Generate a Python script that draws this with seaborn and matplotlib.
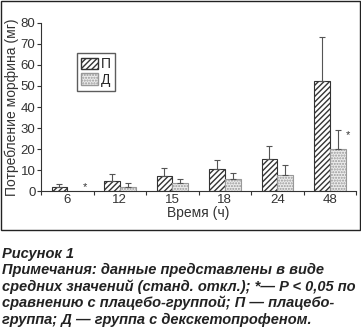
import numpy as np
import pandas as pd
import matplotlib
matplotlib.use("Agg")
import matplotlib.pyplot as plt
import seaborn as sns
from matplotlib.patches import Rectangle, Patch

hours = ["6", "12", "15", "18", "24", "48"]
placebo_mean = [2.0, 5.0, 7.3, 10.5, 15.5, 52.5]
placebo_sd = [1.5, 3.0, 3.7, 4.5, 6.0, 20.5]
dex_mean = [0.2, 2.0, 3.8, 5.7, 7.8, 20.0]
dex_sd = [0.0, 2.0, 2.2, 3.2, 4.7, 9.2]
groups = ["П", "Д"]
significant = [True, False, False, False, False, True]

sns.set_theme(style="ticks")
plt.rcParams["font.family"] = ["Liberation Sans", "DejaVu Sans"]

df = pd.DataFrame({
    "Время (ч)": hours * 2,
    "value": placebo_mean + dex_mean,
    "group": [groups[0]] * len(hours) + [groups[1]] * len(hours),
})

fig = plt.figure(figsize=(3.61, 3.31), dpi=100)
W, H = 361, 331
# outer frame around chart
fig.patches.append(Rectangle((1 / W, 1 - 230 / H), 358.5 / W, 229 / H,
                             transform=fig.transFigure, fill=False,
                             edgecolor="#222222", linewidth=1.0))
ax = fig.add_axes([41 / W, 1 - 191.3 / H, 315 / W, (191.3 - 22.7) / H])

sns.barplot(data=df, x="Время (ч)", y="value", hue="group", ax=ax,
            width=0.6, gap=0, legend=False, errorbar=None,
            palette={groups[0]: "white", groups[1]: "#ececec"})

n = len(hours)
bars_p = ax.patches[:n]
bars_d = ax.patches[n:2 * n]
for b in bars_p:
    b.set_hatch("//////")
    b.set_edgecolor("#333333")
    b.set_linewidth(0.8)
for b in bars_d:
    b.set_hatch("......")
    b.set_edgecolor("#999999")
    b.set_linewidth(0.8)

xp = [b.get_x() + b.get_width() / 2 for b in bars_p]
xd = [b.get_x() + b.get_width() / 2 for b in bars_d]
ax.errorbar(xp, placebo_mean, yerr=[np.zeros(n), placebo_sd], fmt="none",
            ecolor="#555555", elinewidth=0.8, capsize=2.5, capthick=0.8)
ed = [(x, m, s) for x, m, s in zip(xd, dex_mean, dex_sd) if s > 0]
ax.errorbar([e[0] for e in ed], [e[1] for e in ed],
            yerr=[np.zeros(len(ed)), [e[2] for e in ed]], fmt="none",
            ecolor="#555555", elinewidth=0.8, capsize=2.5, capthick=0.8)

for i, sig in enumerate(significant):
    if sig:
        b = bars_d[i]
        ytxt = dex_mean[i] + dex_sd[i] - 2.5 if dex_sd[i] > 0 else 2.2
        ax.text(b.get_x() + b.get_width() + 0.04, ytxt, "*", fontsize=8,
                ha="center", va="center", color="#333333")

ax.set_ylim(0, 80)
ax.set_xlim(-0.5, n - 0.5)
ax.set_yticks(range(0, 81, 10))
ax.set_ylabel("Потребление морфина (мг)", fontsize=10, color="#333333", labelpad=1)
ax.set_xlabel("Время (ч)", fontsize=10, color="#333333", labelpad=0)
ax.tick_params(axis="y", labelsize=9.5, colors="#333333", length=3, width=0.8, pad=1)
ax.tick_params(axis="x", which="major", labelsize=9.5, colors="#333333", length=0, pad=2)
ax.set_xticks(np.arange(-0.5, n, 1.0), minor=True)
ax.tick_params(axis="x", which="minor", length=3, width=0.8, color="#333333", direction="out")
sns.despine(ax=ax)
for s in ["left", "bottom"]:
    ax.spines[s].set_color("#333333")
    ax.spines[s].set_linewidth(0.8)

handles = [Patch(facecolor="white", edgecolor="#333333", hatch="//////", label=groups[0]),
           Patch(facecolor="#ececec", edgecolor="#999999", hatch="......", label=groups[1])]
leg = ax.legend(handles=handles, loc="upper left", bbox_to_anchor=(0.114, 0.82),
                fontsize=10, frameon=True, fancybox=False, handlelength=1.2,
                handleheight=0.9, handletextpad=0.2, borderpad=0.3,
                labelspacing=0.1, borderaxespad=0)
leg.get_frame().set_edgecolor("#333333")
leg.get_frame().set_linewidth(1.0)

caption = [
    "Рисунок 1",
    "Примечания: данные представлены в виде",
    "средних значений (станд. откл.); *— P < 0,05 по",
    "сравнению с плацебо-группой; П — плацебо-",
    "группа; Д — группа с декскетопрофеном.",
]
for k, line in enumerate(caption):
    fig.text(2 / W, 1 - (257.7 + 16.6 * k) / H, line, fontsize=10.5,
             fontweight="bold", fontstyle="italic", color="#222222",
             ha="left", va="baseline")

fig.savefig("out.png", dpi=100)
